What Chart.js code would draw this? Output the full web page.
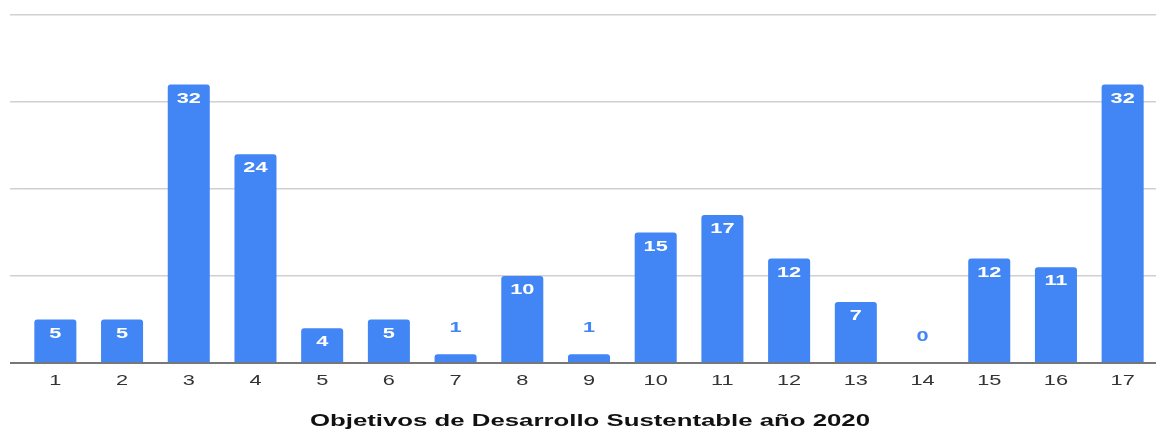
<!DOCTYPE html>
<html>
<head>
<meta charset="utf-8">
<script src="https://cdn.jsdelivr.net/npm/chart.js@4"></script>
<style>
  html, body { margin: 0; padding: 0; background: #fff; }
  #wrap { width: 1156px; height: 430px; }
</style>
</head>
<body>
<div id="wrap"><canvas id="BarChart"></canvas></div>
<script>
const categories = ['1', '2', '3', '4', '5', '6', '7', '8', '9', '10', '11', '12', '13', '14', '15', '16', '17'];
const values = [5, 5, 32, 24, 4, 5, 1, 10, 1, 15, 17, 12, 7, 0, 12, 11, 32];
const yTicks = [0, 10, 20, 30, 40];
const axisTitle = 'Objetivos de Desarrollo Sustentable año 2020';

const barColor = '#4285F4';
const FONT = '"Liberation Sans", Arial, sans-serif';

// the source picture is stretched sideways, so text is drawn wider than tall
function drawWide(ctx, text, x, y, sx) {
    ctx.save();
    ctx.translate(x, y);
    ctx.scale(sx, 1);
    ctx.fillText(text, 0, 0);
    ctx.restore();
}

const wideText = {
    id: 'wideText',
    afterDatasetsDraw(chart) {
        const ctx = chart.ctx;
        const meta = chart.getDatasetMeta(0);
        const xScale = chart.scales.x;
        const bottom = chart.chartArea.bottom;
        ctx.save();
        ctx.textAlign = 'center';
        ctx.textBaseline = 'middle';

        // value labels: white inside tall bars, blue above short ones
        ctx.font = 'bold 15px ' + FONT;
        meta.data.forEach((bar, i) => {
            const h = bar.base - bar.y;
            if (h >= 28) {
                ctx.fillStyle = '#ffffff';
                drawWide(ctx, String(values[i]), bar.x, bar.y + 14, 1.45);
            } else {
                ctx.fillStyle = barColor;
                drawWide(ctx, String(values[i]), bar.x, bar.y - 26, 1.45);
            }
        });

        // category tick labels
        ctx.font = '15px ' + FONT;
        ctx.fillStyle = '#333333';
        categories.forEach((c, i) => {
            drawWide(ctx, c, xScale.getPixelForTick(i), bottom + 18, 1.45);
        });

        // axis title
        ctx.font = 'bold 16px ' + FONT;
        ctx.fillStyle = '#111111';
        const w = ctx.measureText(axisTitle).width;
        drawWide(ctx, axisTitle, 590, 422, 560 / w);
        ctx.restore();
    }
};

document.addEventListener('DOMContentLoaded', () => {
    const ctxBar = document.getElementById('BarChart').getContext('2d');

    new Chart(ctxBar, {
        type: 'bar',
        data: {
            labels: categories,
            datasets: [{
                label: 'ODS',
                data: values,
                backgroundColor: barColor,
                borderRadius: { topLeft: 3, topRight: 3 },
                borderSkipped: 'bottom',
                categoryPercentage: 1,
                barPercentage: 0.63,
            }]
        },
        options: {
            responsive: true,
            maintainAspectRatio: false,
            animation: false,
            layout: {
                padding: { top: 15, left: 10, right: 0, bottom: 67 }
            },
            plugins: {
                legend: { display: false },
                tooltip: { enabled: false },
            },
            scales: {
                x: {
                    grid: { display: false },
                    border: { display: false },
                    ticks: { display: false },
                    afterFit(axis) { axis.height = 0; }
                },
                y: {
                    min: yTicks[0],
                    max: yTicks[yTicks.length - 1],
                    afterBuildTicks(axis) {
                        axis.ticks = yTicks.map(v => ({ value: v }));
                    },
                    afterFit(axis) { axis.width = 12; },
                    grid: {
                        color: c => (c.tick && c.tick.value === 0 ? '#777777' : '#d0d0d0'),
                        lineWidth: c => (c.tick && c.tick.value === 0 ? 2 : 1.5),
                        drawTicks: true,
                        tickLength: 12
                    },
                    border: { display: false },
                    ticks: { display: false }
                }
            }
        },
        plugins: [wideText]
    });
});
</script>
</body>
</html>
